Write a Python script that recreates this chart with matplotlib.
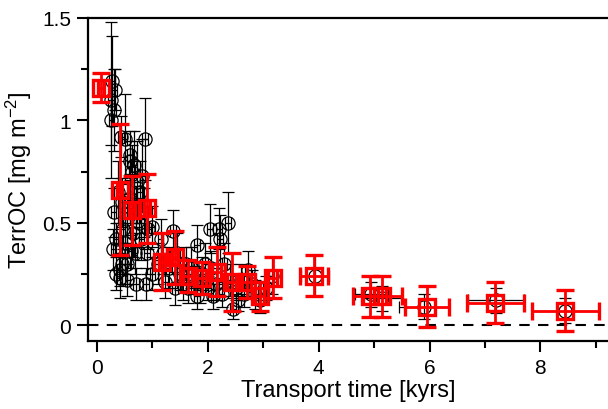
import matplotlib
matplotlib.use("Agg")
import matplotlib.pyplot as plt
from matplotlib.ticker import MultipleLocator

plt.rcParams['font.family'] = ['Liberation Sans', 'DejaVu Sans']
plt.rcParams['mathtext.fontset'] = 'custom'
plt.rcParams['mathtext.rm'] = 'Liberation Sans'
plt.rcParams['mathtext.default'] = 'rm'

# Black circles: individual samples
blk_x = [0.25, 0.27, 0.32, 0.25, 0.30, 0.43, 0.87, 0.50, 0.60, 0.60, 0.67, 0.63,
         0.82, 0.72, 0.78, 0.60, 0.70, 0.85, 0.55, 0.47, 0.92, 0.99, 0.34, 0.29,
         0.41, 0.41, 0.61, 0.68, 0.70, 0.88, 0.80, 0.55, 0.50,
         0.35, 0.45, 0.55, 0.65, 0.75, 0.90, 0.30, 0.38, 0.45, 1.00,
         1.15, 1.23, 1.37, 1.41, 1.10, 1.30, 1.50, 1.55, 1.65, 1.70, 1.80, 1.80,
         1.86, 1.90, 1.95, 2.04, 2.10, 2.15, 2.20, 2.22, 2.30, 2.36, 2.45, 2.50,
         1.20, 1.45, 1.60, 1.75, 2.00, 2.05, 2.25, 2.40, 2.55, 2.65, 2.80, 3.05,
         2.60, 2.72, 2.85, 2.95, 3.15, 3.93, 4.95, 5.15, 5.90, 7.20, 8.45]
blk_y = [1.10, 1.19, 1.15, 1.00, 1.05, 0.92, 0.91, 0.91, 0.83, 0.80, 0.78, 0.75,
         0.73, 0.70, 0.65, 0.62, 0.58, 0.55, 0.52, 0.47, 0.47, 0.48, 0.42, 0.37,
         0.27, 0.23, 0.36, 0.35, 0.20, 0.20, 0.42, 0.30, 0.40,
         0.25, 0.30, 0.22, 0.45, 0.50, 0.35, 0.55, 0.65, 0.60, 0.25,
         0.42, 0.21, 0.46, 0.18, 0.30, 0.28, 0.25, 0.20, 0.18, 0.28, 0.39, 0.14,
         0.18, 0.25, 0.30, 0.47, 0.14, 0.20, 0.47, 0.42, 0.30, 0.50, 0.08, 0.18,
         0.35, 0.35, 0.30, 0.22, 0.18, 0.28, 0.15, 0.22, 0.12, 0.15, 0.20, 0.18,
         0.22, 0.27, 0.15, 0.12, 0.24, 0.24, 0.15, 0.13, 0.09, 0.12, 0.07]
blk_yerr = [0.38, 0.22, 0.10, 0.12, 0.20, 0.10, 0.20, 0.22, 0.12, 0.10, 0.17, 0.13,
            0.18, 0.20, 0.15, 0.12, 0.10, 0.12, 0.12, 0.10, 0.10, 0.10, 0.08, 0.10,
            0.08, 0.10, 0.08, 0.10, 0.08, 0.08, 0.10, 0.10, 0.15,
            0.08, 0.10, 0.08, 0.12, 0.12, 0.10, 0.12, 0.15, 0.12, 0.08,
            0.10, 0.08, 0.10, 0.08, 0.10, 0.10, 0.08, 0.08, 0.07, 0.10, 0.10, 0.06,
            0.07, 0.08, 0.10, 0.12, 0.06, 0.08, 0.10, 0.12, 0.10, 0.15, 0.05, 0.06,
            0.10, 0.10, 0.08, 0.07, 0.06, 0.08, 0.06, 0.08, 0.05, 0.06, 0.07, 0.06,
            0.08, 0.09, 0.07, 0.06, 0.09, 0.10, 0.06, 0.06, 0.06, 0.06, 0.06]
blk_xerr = [0.05, 0.05, 0.05, 0.04, 0.04, 0.05, 0.05, 0.05, 0.05, 0.05, 0.05, 0.05,
            0.05, 0.05, 0.05, 0.04, 0.05, 0.05, 0.05, 0.04, 0.05, 0.05, 0.04, 0.04,
            0.04, 0.04, 0.05, 0.05, 0.05, 0.05, 0.05, 0.05, 0.05,
            0.04, 0.05, 0.05, 0.05, 0.05, 0.05, 0.04, 0.04, 0.05, 0.05,
            0.05, 0.05, 0.05, 0.05, 0.05, 0.05, 0.05, 0.05, 0.05, 0.05, 0.05, 0.05,
            0.05, 0.05, 0.05, 0.05, 0.05, 0.05, 0.05, 0.05, 0.05, 0.05, 0.05, 0.05,
            0.05, 0.05, 0.05, 0.05, 0.05, 0.05, 0.05, 0.05, 0.05, 0.05, 0.05, 0.05,
            0.05, 0.05, 0.05, 0.05, 0.05, 0.25, 0.30, 0.35, 0.45, 0.50, 0.60]

# Red squares: binned averages
red_x = [0.07, 0.41, 0.63, 0.90, 1.17, 1.41, 1.64, 1.89, 2.16, 2.43, 2.70, 2.94,
         3.17, 3.91, 4.92, 5.15, 5.95, 7.19, 8.45]
red_y = [1.16, 0.66, 0.56, 0.57, 0.31, 0.33, 0.24, 0.23, 0.26, 0.21, 0.21, 0.14,
         0.23, 0.24, 0.14, 0.14, 0.09, 0.11, 0.07]
red_yerr = [0.07, 0.32, 0.17, 0.17, 0.14, 0.13, 0.08, 0.08, 0.12, 0.14, 0.08, 0.07,
            0.10, 0.10, 0.10, 0.10, 0.10, 0.10, 0.10]
red_xerr = [0.05, 0.05, 0.05, 0.05, 0.06, 0.06, 0.08, 0.08, 0.08, 0.08, 0.08, 0.08,
            0.08, 0.25, 0.30, 0.35, 0.40, 0.52, 0.61]

fig = plt.figure(figsize=(6.08, 4.10), dpi=100)
ax = fig.add_axes([88/608, 68/410, 1 - 88/608, 323/410])

ax.axhline(0, color='black', lw=1.5, ls=(0, (5, 4)), zorder=1)

ax.errorbar(blk_x, blk_y, yerr=blk_yerr, xerr=blk_xerr, fmt='o', ms=9.5,
            mfc='none', mec='black', mew=0.9, ecolor='black', elinewidth=0.9,
            capsize=4, capthick=0.9, zorder=2)
ax.errorbar(red_x, red_y, yerr=red_yerr, xerr=red_xerr, fmt='s', ms=12,
            mfc='none', mec='red', mew=2.4, ecolor='red', elinewidth=2.0,
            capsize=6.5, capthick=2.0, zorder=3)

ax.set_xlim(-0.162, 9.22)
ax.set_ylim(-0.078, 1.5)

ax.spines['right'].set_visible(False)
for s in ['left', 'bottom', 'top']:
    ax.spines[s].set_linewidth(1.6)

ax.xaxis.set_minor_locator(MultipleLocator(1))
ax.yaxis.set_minor_locator(MultipleLocator(0.25))
ax.set_xticks([0, 2, 4, 6, 8])
ax.set_xticklabels(['0', '2', '4', '6', '8'])
ax.set_yticks([0, 0.5, 1, 1.5])
ax.set_yticklabels(['0', '0.5', '1', '1.5'])

ax.tick_params(which='major', direction='out', length=8, width=1.5,
               labelsize=15, pad=4)
ax.tick_params(which='minor', direction='out', length=5, width=1.5)
ax.tick_params(top=False, right=False, which='both')

ax.set_xlabel('Transport time [kyrs]', fontsize=17, labelpad=2)
ax.set_ylabel('TerrOC [mg m$^{-2}$]', fontsize=17, labelpad=6)

fig.savefig('out.png', dpi=100)
